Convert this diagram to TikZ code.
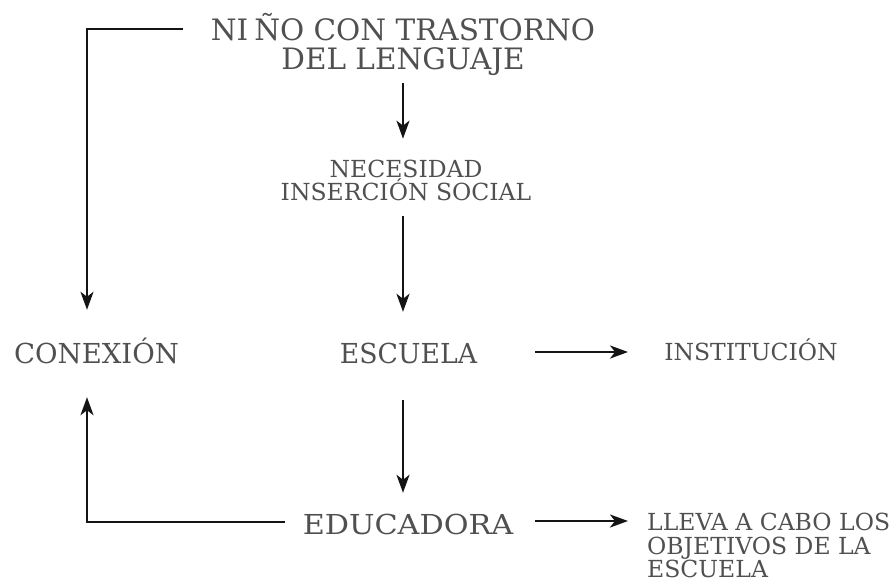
\documentclass[tikz,border=0pt]{standalone}
\usepackage{fontspec}
\setmainfont{DejaVu Serif}
\usetikzlibrary{arrows.meta}
\definecolor{txt}{RGB}{80,80,80}
\definecolor{ln}{RGB}{20,20,20}
\tikzset{
  title/.style={inner sep=0pt, text=txt, font=\fontsize{29.5}{28.7}\selectfont},
  big/.style={inner sep=0pt, text=txt, font=\fontsize{27.5}{28}\selectfont, text height=20pt, text depth=0pt},
  small/.style={inner sep=0pt, text=txt, font=\fontsize{23.5}{23.5}\selectfont},
  smallone/.style={small, text height=17pt, text depth=0pt},
  arr/.style={draw=ln, line width=2.4pt, -{Stealth[length=18pt,width=13pt,inset=5pt]}}
}
\begin{document}
\begin{tikzpicture}[x=1pt,y=-1pt]
\useasboundingbox (0,0) rectangle (895,582);
\node[title, align=center] (nino) at (403,44.2) {NI\kern0.2em ÑO CON TRASTORNO\\DEL LENGUAJE};
\node[small, align=center] (nec) at (406,180.5) {NECESIDAD\\INSERCIÓN SOCIAL};
\node[big] (con) at (96.5,353.5) {CONEXIÓN};
\node[big] (esc) at (408.5,353.5) {\scalebox{0.97}[1]{ESCUELA}};
\node[smallone] (inst) at (751,352) {INSTITUCIÓN};
\node[big] (edu) at (408,524) {\scalebox{1.1}[1]{EDUCADORA}};
\node[small, align=left, anchor=north west] (llev) at (647,513) {LLEVA A CABO LOS\\OBJETIVOS DE LA\\ESCUELA};

\draw[arr] ([shift={(0,7.6)}]nino.south) -- ([shift={(-3,-21)}]nec.north);
\draw[arr] ([shift={(-3,15)}]nec.south) -- ([shift={(-5.5,-31.5)}]esc.north);
\draw[arr] ([shift={(-5.5,36.5)}]esc.south) -- ([shift={(-5,-21)}]edu.north);
\draw[arr] ([shift={(58,-1.5)}]esc.east) -- ([shift={(-36,0)}]inst.west);
\draw[arr] ([shift={(22,-3)}]edu.east) -- ([shift={(-19,8)}]llev.north west);
\draw[arr] ([shift={(-28,-15.2)}]nino.west) -| ([shift={(-9.5,-33.5)}]con.north);
\draw[arr] ([shift={(-18,-2)}]edu.west) -| ([shift={(-9.5,33.5)}]con.south);
\end{tikzpicture}
\end{document}
